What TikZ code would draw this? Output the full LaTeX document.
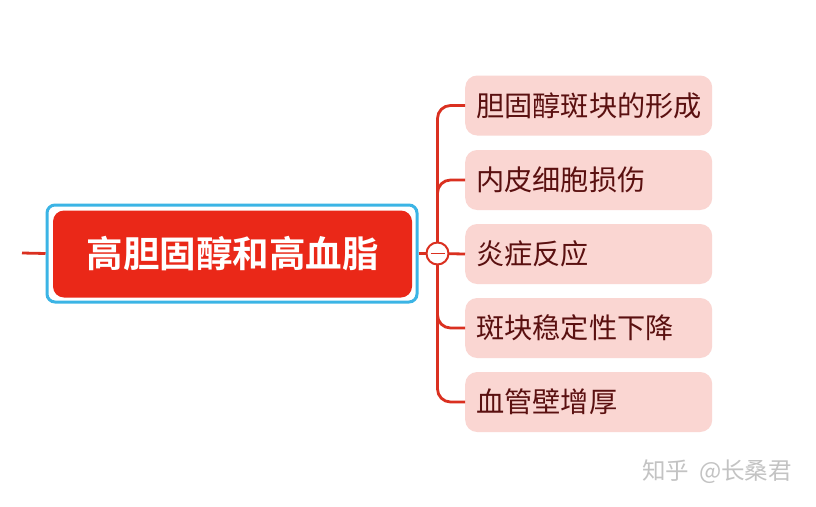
\documentclass[tikz,border=0pt]{standalone}
\usepackage{fontspec}
\setmainfont{Noto Sans CJK SC}
\newfontfamily\cjkbold{Noto Sans CJK SC Bold}
\definecolor{brred}{RGB}{218,48,32}
\definecolor{rootred}{RGB}{234,40,24}
\definecolor{frameblue}{RGB}{59,180,229}
\definecolor{childpink}{RGB}{250,214,210}
\definecolor{childtext}{RGB}{90,16,16}
\definecolor{wmgray}{RGB}{195,195,195}
\begin{document}
\begin{tikzpicture}[x=1pt,y=-1pt,
  branch/.style={draw=brred, line width=2.8pt},
  child/.style={fill=childpink, rounded corners=12pt, minimum width=247pt, minimum height=60pt, inner sep=0pt, text=childtext, font=\fontsize{28.2}{31}\selectfont, anchor=west, text width=247pt, align=left},
  ]
\useasboundingbox (0,0) rectangle (816,506);
\fill[white] (0,0) rectangle (816,506);
% outer blue frame and root
\node[draw=frameblue, line width=3pt, rounded corners=8pt, minimum width=370pt, minimum height=97pt, inner sep=0pt] (frame) at (232,253.5) {};
\node[fill=rootred, rounded corners=11pt, minimum width=359pt, minimum height=87pt, inner sep=0pt, text=white, font=\cjkbold\fontsize{36.5}{40}\selectfont] (root) at (232.5,254) {高胆固醇和高血脂};
\coordinate (lin) at (22,253);
\draw[branch] (lin) -- (frame.west);
% children
\node[child] (c1) at (465,105.5) {\hspace*{11pt}胆固醇斑块的形成};
\node[child] (c2) at (465,180) {\hspace*{11pt}内皮细胞损伤};
\node[child] (c3) at (465,254) {\hspace*{11pt}炎症反应};
\node[child] (c4) at (465,328) {\hspace*{11pt}斑块稳定性下降};
\node[child] (c5) at (465,402) {\hspace*{11pt}血管壁增厚};
\coordinate (hub) at (437.5,253.5);
\draw[branch] (frame.east) -- (hub);
\draw[branch, rounded corners=13pt] (hub) |- (c1.west);
\draw[branch, rounded corners=13pt] (hub) |- (c2.west);
\draw[branch] (hub) -- (c3.west);
\draw[branch, rounded corners=13pt] (hub) |- (c4.west);
\draw[branch, rounded corners=13pt] (hub) |- (c5.west);
\node[circle, draw=brred, line width=2pt, fill=white, minimum size=22pt, inner sep=0pt] (circ) at (hub) {};
\draw[brred, line width=1.8pt] ([xshift=-7pt]circ.center) -- ([xshift=7pt]circ.center);
% watermark
\node[text=wmgray, font=\fontsize{23.5}{26}\selectfont, anchor=west, inner sep=0pt] (wm) at (642,472) {知乎\hspace{10pt}@长桑君};
\end{tikzpicture}
\end{document}
